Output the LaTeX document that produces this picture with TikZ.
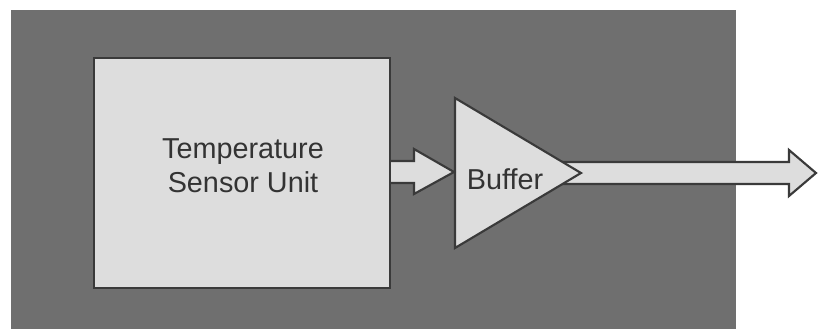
\documentclass[tikz,border=0pt]{standalone}
\usepackage{fontspec}
\setmainfont{Liberation Sans}
\definecolor{bggray}{HTML}{6F6F6F}
\definecolor{boxfill}{HTML}{DDDDDD}
\definecolor{edge}{HTML}{3A3A3A}
\definecolor{txt}{HTML}{333333}
\begin{document}
\begin{tikzpicture}[x=0.75pt,y=-0.75pt,
  block/.style={draw=edge,fill=boxfill,line width=1.6pt,line join=miter},
  lbl/.style={text=txt,font=\fontsize{21.6pt}{25.6pt}\selectfont,align=center,inner sep=0pt}]
\useasboundingbox (0,0) rectangle (818,329);
% background panel
\fill[bggray] (11,10) rectangle (736,329);
% sensor unit box
\node[block,rectangle,minimum width=296*0.75pt,minimum height=230*0.75pt,inner sep=0pt] (tsu) at (242,173) {};
\node[lbl] (tsulbl) at (243,166) {Temperature\\Sensor Unit};
% buffer triangle vertices
\coordinate (bufTop) at (455,98);
\coordinate (bufBot) at (455,248);
\coordinate (bufTip) at (581,173);
\coordinate (out) at (816,173);
% output arrow (drawn under buffer)
\draw[block] (560,162) -- (789,162) -- (789,150) -- (out) -- (789,196) -- (789,184) -- (560,184) -- cycle;
% buffer
\draw[block] (bufTop) -- (bufTip) -- (bufBot) -- cycle;
\node[lbl] (buflbl) at (505,179) {Buffer};
% input arrow from sensor to buffer
\draw[block] (tsu.east |- 0,161) -- (414,161) -- (414,149) -- (454,172) -- (414,194) -- (414,183) -- (tsu.east |- 0,183);
\end{tikzpicture}
\end{document}
